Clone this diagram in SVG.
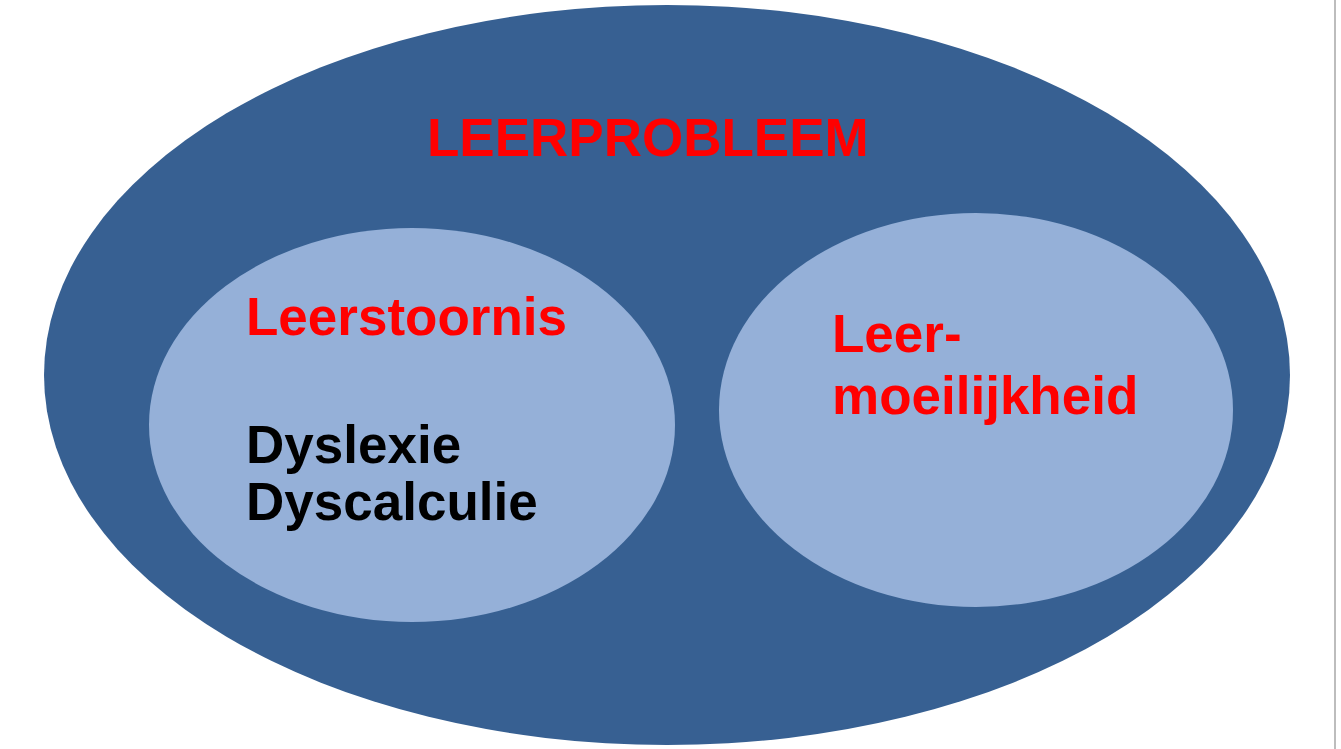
<svg xmlns="http://www.w3.org/2000/svg" width="1341" height="749" viewBox="0 0 1341 749">
<style>
.t{font-family:"Liberation Sans",Arial,sans-serif;font-weight:bold;font-size:53px}
.r{fill:#FF0000}
.k{fill:#000000}
</style>
<rect width="1341" height="749" fill="#FFFFFF"/>
<line x1="1335" y1="0" x2="1335" y2="749" stroke="#BDBDBD" stroke-width="2"/>
<g id="leerprobleem">
<ellipse cx="667" cy="375" rx="623" ry="370" fill="#376092"/>
<text class="t r" x="427" y="156">LEERPROBLEEM</text>
</g>
<g id="leerstoornis">
<ellipse cx="412" cy="425" rx="263" ry="197" fill="#95B0D8"/>
<text class="t r" x="246" y="335">Leerstoornis</text>
<text class="t k" x="246" y="463">Dyslexie</text>
<text class="t k" x="246" y="520">Dyscalculie</text>
</g>
<g id="leermoeilijkheid">
<ellipse cx="976" cy="410" rx="257" ry="197" fill="#95B0D8"/>
<text class="t r" x="832" y="352">Leer-</text>
<text class="t r" x="832" y="414">moeilijkheid</text>
</g>
<g id="connectors"/>
</svg>
